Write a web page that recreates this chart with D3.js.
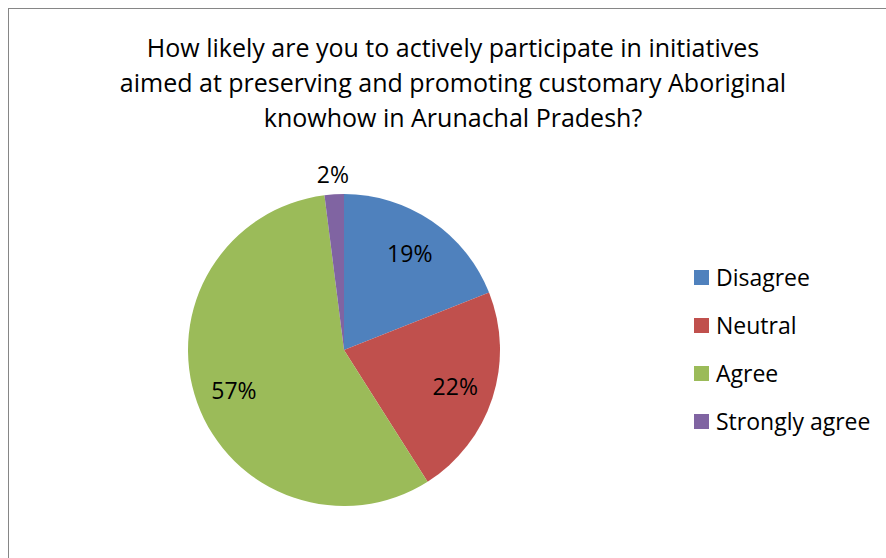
<!DOCTYPE html>
<html><head><meta charset="utf-8">
<script src="https://cdn.jsdelivr.net/npm/d3@7"></script>
<style>body{margin:0;background:#fff}svg{display:block}text{font-family:"Open Sans",sans-serif;fill:#000}</style>
</head><body>
<script>
const categories = ["Disagree","Neutral","Agree","Strongly agree"];
const values = [19,22,57,2];
const labels = ["19%","22%","57%","2%"];
const colors = ["#4F81BD","#C0504D","#9BBB59","#8064A2"];
const titleLines = ["How likely are you to actively participate in initiatives","aimed at preserving and promoting customary Aboriginal","knowhow in Arunachal Pradesh?"];

const W=886,H=558;
const svg=d3.select("body").append("svg").attr("width",W).attr("height",H);
svg.append("rect").attr("x",8.5).attr("y",8.5).attr("width",W).attr("height",H).attr("fill","#fff").attr("stroke","#868686").attr("stroke-width",1);

const title=svg.append("text").attr("text-anchor","middle").style("font-size","25px");
titleLines.forEach((t,i)=>title.append("tspan").attr("x",453).attr("y",57+i*35).text(t));

const cx=344,cy=350,r=156;
const pie=d3.pie().sort(null).value(d=>d);
const arcs=pie(values);
const arc=d3.arc().innerRadius(0).outerRadius(r);
const g=svg.append("g").attr("transform",`translate(${cx},${cy})`);
g.selectAll("path").data(arcs).join("path").attr("d",arc).attr("fill",(d,i)=>colors[i]);

const labelArc=d3.arc().innerRadius(r*0.75).outerRadius(r*0.75);
g.selectAll("text.lbl").data(arcs).join("text").attr("class","lbl")
 .attr("text-anchor","middle").attr("dominant-baseline","central").style("font-size","23px")
 .attr("transform",(d,i)=>{
   if(i===3){const a=(d.startAngle+d.endAngle)/2;return `translate(${(r+20)*Math.sin(a)},${-(r+20)*Math.cos(a)})`;}
   const c=labelArc.centroid(d);return `translate(${c[0]},${c[1]})`;})
 .text((d,i)=>labels[i]);

const lg=svg.append("g").attr("transform","translate(694,277.5)");
categories.forEach((c,i)=>{
  const row=lg.append("g").attr("transform",`translate(0,${i*48})`);
  row.append("rect").attr("x",0).attr("y",-7.5).attr("width",15).attr("height",15).attr("fill",colors[i]);
  row.append("text").attr("x",22).attr("y",-1).attr("dominant-baseline","central").style("font-size","23px").text(c);
});
</script>
</body></html>
